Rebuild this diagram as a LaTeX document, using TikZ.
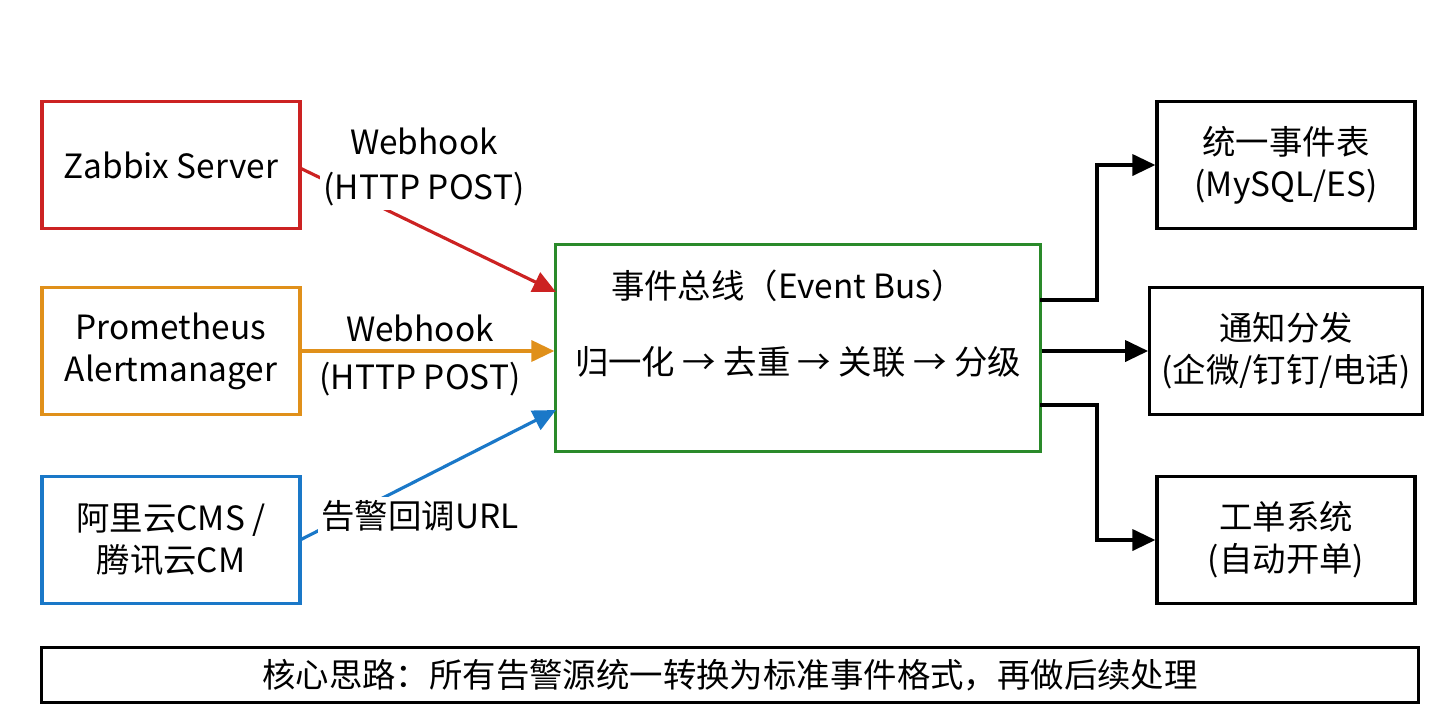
\documentclass[tikz,border=0pt]{standalone}
\usepackage{fontspec}
\setmainfont{Noto Sans CJK SC}
\usetikzlibrary{arrows.meta}
\definecolor{cr}{HTML}{CC2222}
\definecolor{co}{HTML}{E0901A}
\definecolor{cb}{HTML}{1A78C8}
\definecolor{cg}{HTML}{2A8A2A}
\begin{document}
\begin{tikzpicture}[x=0.01cm,y=-0.01cm,
  box/.style={draw,line width=0.9pt,minimum width=2.58cm,minimum height=1.27cm,align=center,font=\fontsize{9.5}{12}\selectfont},
  lab/.style={align=center,font=\fontsize{9.5}{13}\selectfont,fill=white,inner sep=1pt},
  ar/.style={line width=0.9pt,-{Triangle[length=6.5pt,width=6pt]}}]
\useasboundingbox (0,0) rectangle (1456,720);
\node[box,draw=cr] (z) at (171,165) {Zabbix Server};
\node[box,draw=co] (p) at (171,351) {Prometheus\\Alertmanager};
\node[box,draw=cb] (a) at (171,540) {阿里云CMS /\\腾讯云CM};
\node[box,draw=cg,minimum width=4.84cm,minimum height=2.07cm] (e) at (798,348) {};
\node[font=\fontsize{9.5}{12}\selectfont] (et) at (788,286) {事件总线（Event Bus）};
\node[font=\fontsize{9.5}{12}\selectfont] (ef) at (798,362) {归一化 → 去重 → 关联 → 分级};
\node[box] (r1) at (1286,165) {统一事件表\\(MySQL/ES)};
\node[box] (r2) at (1286,351) {通知分发\\(企微/钉钉/电话)};
\node[box] (r3) at (1286,540) {工单系统\\(自动开单)};
\node[draw,line width=0.7pt,minimum width=13.76cm,minimum height=0.54cm,font=\fontsize{9.5}{12}\selectfont] (b) at (730,675) {核心思路：所有告警源统一转换为标准事件格式，再做后续处理};
\coordinate (zs) at (300,168); \coordinate (ze) at (556,292);
\coordinate (as) at (300,540); \coordinate (ae) at (556,410);
\draw[ar,draw=cr,fill=cr] (zs) -- (ze);
\draw[ar,draw=co,fill=co] (p.east) -- (p.east -| e.west);
\draw[ar,draw=cb,fill=cb] (as) -- (ae);
\node[lab] (l1) at (424,167) {Webhook\\(HTTP POST)};
\node[lab,fill=none] (l2a) at (420,328) {Webhook};
\node[lab,fill=none] (l2b) at (420,379) {(HTTP POST)};
\node[lab] (l3) at (420,516) {告警回调URL};
\coordinate (o1) at (1040,300); \coordinate (o3) at (1040,405);
\draw[ar] (o1) -- (1097,300) |- (r1.west);
\draw[ar] (e.east |- r2.west) -- (r2.west);
\draw[ar] (o3) -- (1097,405) |- (r3.west);
\end{tikzpicture}
\end{document}
